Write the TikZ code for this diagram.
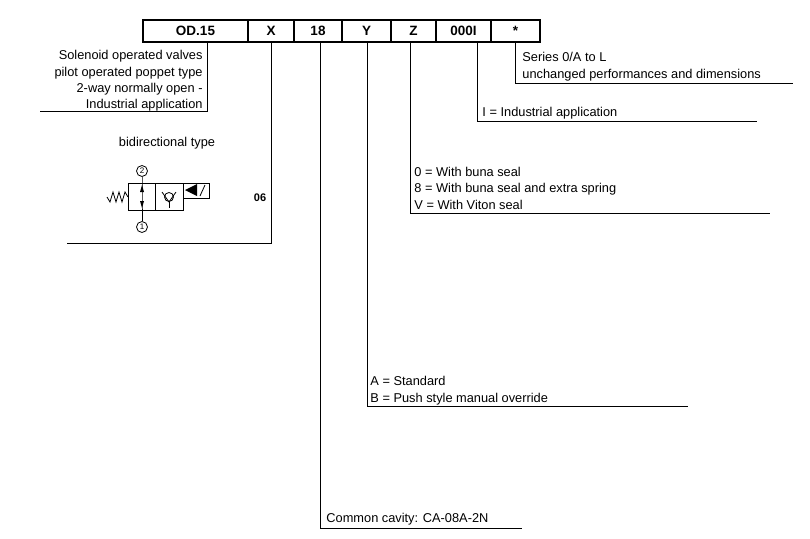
\documentclass[tikz,border=0pt]{standalone}
\usepackage{fontspec}
\setmainfont{Liberation Sans}
\begin{document}
\begin{tikzpicture}[x=1pt,y=-1pt,line width=0.9pt,
  lbl/.style={font=\fontsize{12.8}{14}\selectfont,inner sep=0pt,anchor=base west},
  rl/.style={font=\fontsize{12.8}{14}\selectfont,inner sep=0pt,anchor=base east},
  code/.style={font=\bfseries\fontsize{13.5}{14}\selectfont,inner sep=0pt}]
\useasboundingbox (0,0) rectangle (810,538);
% code boxes
\foreach \a/\b/\t/\n in {143/248/OD.15/b1,248/294/X/b2,294/342/18/b3,342/391/Y/b4,391/436/Z/b5,436/491/000I/b6,491/540/{*}/b7}{
  \draw[line width=1.6pt] (\a,20) rectangle (\b,42);
  \node[code] (\n) at ({(\a+\b)/2},31) {\t};
}
% left description
\coordinate (l0) at (207,42);
\coordinate (l1) at (207,111);
\coordinate (l2) at (40,111);
\draw (l0) -- (l1) -- (l2);
\node[rl] (t1) at (203,59) {Solenoid operated valves};
\node[rl] (t2) at (203,76) {pilot operated poppet type};
\node[rl] (t3) at (203,92) {2-way normally open -};
\node[rl] (t4) at (203,108) {Industrial application};
% X
\coordinate (x0) at (271,42); \coordinate (x1) at (271,243); \coordinate (x2) at (67,243);
\draw (x0) -- (x1) -- (x2);
\node[code,font=\bfseries\fontsize{11}{12}\selectfont] (o6) at (260,198) {06};
\node[lbl,anchor=center] (bt) at (167,143) {bidirectional type};
% valve symbol
\begin{scope}[line width=0.8pt]
\draw (128,183) rectangle (155,210);
\draw (155,183) rectangle (183,210);
\draw (183,183) rectangle (209,198);
\draw (128,197) -- (125,192) -- (122,202) -- (119,192) -- (116,202) -- (113,192) -- (110,202) -- (107,197);
\node[circle,draw,inner sep=0pt,minimum size=11pt,font=\fontsize{8}{8}\selectfont] (p2) at (142,171) {2};
\node[circle,draw,inner sep=0pt,minimum size=11pt,font=\fontsize{8}{8}\selectfont] (p1) at (142,227) {1};
\draw (p2) -- (142,197) -- (p1);
\fill (142,185) -- (140,192) -- (144,192) -- cycle;
\fill (142,208) -- (140,201) -- (144,201) -- cycle;
\draw (169,197) circle (4.5);
\draw (162,192) -- (169,202) -- (176,192);
\draw (169,202) -- (169,208);
\fill (185,190) -- (197,184) -- (197,196) -- cycle;
\draw (200,196) -- (205,185);
\end{scope}
% 18
\coordinate (e0) at (320,42); \coordinate (e1) at (320,528); \coordinate (e2) at (522,528);
\draw (e0) -- (e1) -- (e2);
\node[lbl] (ct) at (326,522) {Common cavity: CA-08A-2N};
% Y
\coordinate (y0) at (367,42); \coordinate (y1) at (367,406); \coordinate (y2) at (688,406);
\draw (y0) -- (y1) -- (y2);
\node[lbl] (ya) at (370,385) {A = Standard};
\node[lbl] (yb) at (370,402) {B = Push style manual override};
% Z
\coordinate (z0) at (410,42); \coordinate (z1) at (410,213); \coordinate (z2) at (770,213);
\draw (z0) -- (z1) -- (z2);
\node[lbl] (za) at (414,176) {0 = With buna seal};
\node[lbl] (zb) at (414,192) {8 = With buna seal and extra spring};
\node[lbl] (zc) at (414,209) {V = With Viton seal};
% 000I
\coordinate (i0) at (477,42); \coordinate (i1) at (477,121); \coordinate (i2) at (757,121);
\draw (i0) -- (i1) -- (i2);
\node[lbl] (ia) at (482,116) {I = Industrial application};
% *
\coordinate (s0) at (515,42); \coordinate (s1) at (515,83); \coordinate (s2) at (793,83);
\draw (s0) -- (s1) -- (s2);
\node[lbl] (sa) at (522,61) {Series 0/A to L};
\node[lbl] (sb) at (522,78) {unchanged performances and dimensions};
\end{tikzpicture}
\end{document}
